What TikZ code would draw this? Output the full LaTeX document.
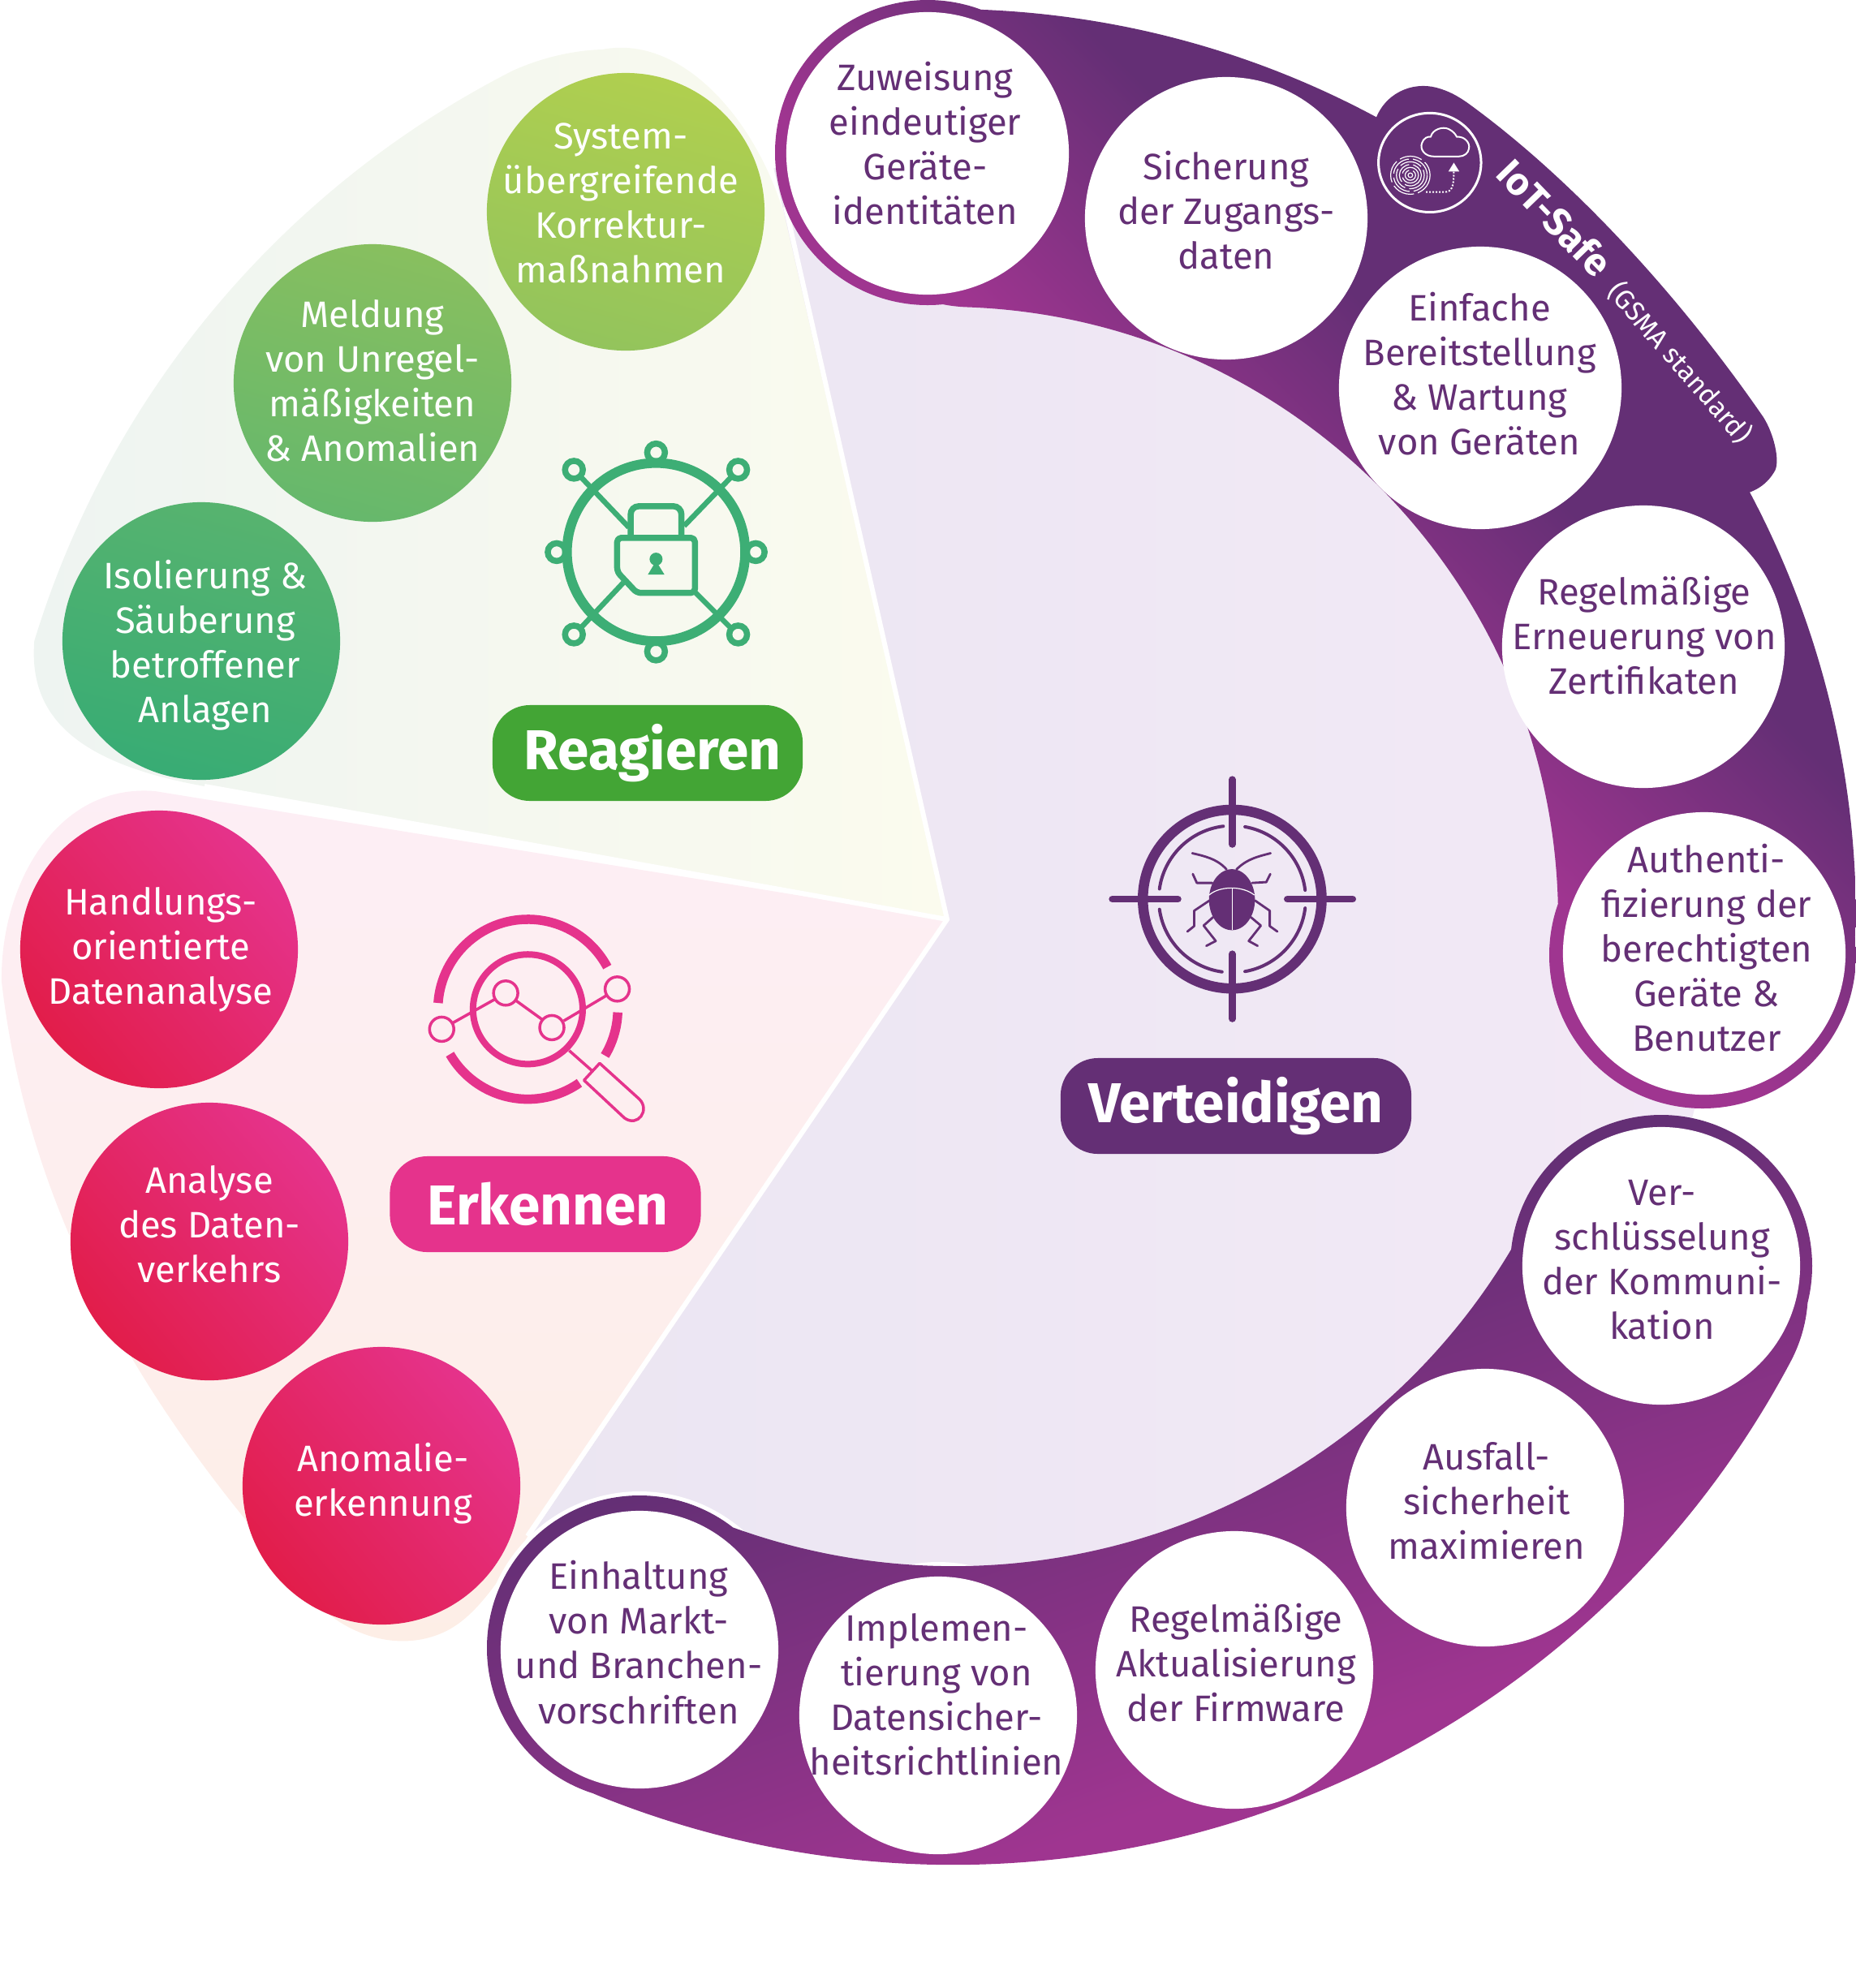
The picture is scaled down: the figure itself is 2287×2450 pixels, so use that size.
\documentclass[tikz,border=0pt]{standalone}
\usepackage{fontspec}
\setmainfont{Fira Sans}
\usetikzlibrary{arrows.meta}

\definecolor{ringdark}{HTML}{642F75}
\definecolor{ringlight}{HTML}{9F3590}
\definecolor{pinkdark}{HTML}{E5338C}
\definecolor{pinkred}{HTML}{E21D4A}
\definecolor{icongreen}{HTML}{3DAE75}
\definecolor{pillgreen}{HTML}{43A535}
\definecolor{lime}{HTML}{B0CF4F}
\definecolor{limelow}{HTML}{93C45C}
\definecolor{grass}{HTML}{88BF5F}
\definecolor{grasslow}{HTML}{66B86C}
\definecolor{teal}{HTML}{57B36F}
\definecolor{teallow}{HTML}{38AC74}
\definecolor{wedgeleft}{HTML}{EEF4F1}
\definecolor{wedgeright}{HTML}{FBFBEE}
\definecolor{wedgerose}{HTML}{FDEEF5}
\definecolor{wedgepeach}{HTML}{FDEEE6}
\definecolor{lavender}{HTML}{EBE6F2}
\definecolor{lavenderlow}{HTML}{F3E9F6}

\pgfdeclareverticalshading{ringtop}{100bp}{color(0bp)=(ringlight); color(46.8bp)=(ringlight); color(59.7bp)=(ringdark); color(100bp)=(ringdark)}
\pgfdeclareverticalshading{ringbottom}{100bp}{color(0bp)=(ringlight); color(35bp)=(ringlight); color(56bp)=(ringdark); color(100bp)=(ringdark)}

\tikzset{
    topic/.style={circle, fill=white, minimum size=3.42cm, inner sep=0pt},
    bigtopic/.style={topic, minimum size=3.48cm},
    topictext/.style={align=center, text=ringdark, inner sep=0pt,
        font=\fontsize{12.9}{15.65}\selectfont},
    whitetext/.style={topictext, text=white},
    greenball/.style 2 args={topic, fill=none, top color=#1, bottom color=#2, shading angle=-15},
    pinkball/.style={topic, fill=none, top color=pinkdark, bottom color=pinkred, shading angle=-50},
    pill/.style={rounded corners=0.46cm, minimum height=1.18cm, inner sep=0pt, text=white,
        font=\fontsize{19.7}{24}\selectfont\bfseries},
    iconline/.style={line cap=round, line join=round},
}

\begin{document}
\begin{tikzpicture}[x=0.01cm, y=-0.01cm]
    \useasboundingbox (0,0) rectangle (2287,2450);

    % Segmente im Hintergrund
    \path[left color=wedgeleft, right color=wedgeright]
        (1167,1133) -- (975,300) .. controls (950,170) and (850,40) .. (742,61) .. controls (705,62) and (665,72) .. (632,87)
        arc[start angle=243, end angle=197, radius=1174]
        .. controls (35,880) and (90,940) .. (252,969) -- cycle;
    \path[top color=wedgerose, bottom color=wedgepeach]
        (1167,1133) -- (191,975) .. controls (70,965) and (0,1090) .. (2,1210)
        .. controls (40,1540) and (220,1790) .. (400,1985)
        .. controls (440,2020) and (500,2035) .. (550,2010) .. controls (590,1990) and (620,1940) .. (657,1883) -- cycle;
    \path[left color=lavender, right color=lavenderlow]
        (1167,1133) -- ++(257:950) arc[start angle=257, end angle=484, radius=950] -- cycle;
    \draw[white, line width=0.06cm] (968,255) -- (1167,1133) -- (650,1893);
    \draw[white, line width=0.06cm] (252,969) -- (1167,1133);
    \fill[white] (788,2032) circle (194);
    \fill[white] (1156,2114) circle (189);

    % Ring oben und rechts
    \path[shade, shading=ringtop, shading angle=-45]
        (1165,1133) ++(272:1122) arc[start angle=272, end angle=360, radius=1122]
        arc[start angle=360, delta angle=180, radius=183.5]
        arc[start angle=360, end angle=272, radius=755]
        arc[start angle=92, delta angle=180, radius=183.5] -- cycle
        (1143,188) circle (188)
        (2098,1177) circle (189);
    % Ring unten
    \path[shade, shading=ringbottom, shading angle=20]
        (1175,1130) ++(28:1168) arc[start angle=28, end angle=112, radius=1168]
        arc[start angle=112, delta angle=180, radius=184]
        arc[start angle=112, end angle=28, radius=800]
        arc[start angle=208, delta angle=180, radius=184] -- cycle
        (2047,1560) circle (186)
        (788,2031) circle (188);

    % IoT-Safe Lasche
    \fill[ringdark] (1694,150) .. controls (1705,115) and (1740,100) .. (1770,108)
        .. controls (1785,112) and (1796,118) .. (1810,128)
        .. controls (1950,230) and (2080,380) .. (2170,510)
        .. controls (2185,530) and (2195,570) .. (2186,582)
        .. controls (2175,600) and (2160,606) .. (2146,610)
        -- (1850,520) -- (1700,370) -- (1680,300) -- cycle;

    \node[bigtopic] (zuweisung) at (1143,189) {};
    \node[bigtopic] (sicherung) at (1511,269) {};
    \node[bigtopic] (einfache) at (1824,478) {};
    \node[bigtopic] (erneuerung) at (2025,797) {};
    \node[bigtopic] (authenti) at (2100,1175) {};
    \node[topic] (verschluss) at (2047,1560) {};
    \node[topic] (ausfall) at (1830,1858) {};
    \node[topic] (firmware) at (1521,2058) {};
    \node[topic] (richtlinien) at (1156,2114) {};
    \node[topic] (vorschriften) at (788,2033) {};

    \node[topictext] (zuweisungtext) at (1140,177) {Zuweisung\\eindeutiger\\Geräte-\\identitäten};
    \node[topictext] (sicherungtext) at (1511,259) {Sicherung\\der Zugangs-\\daten};
    \node[topictext] (einfachetext) at (1823,461) {Einfache\\Bereitstellung\\\& Wartung\\von Geräten};
    \node[topictext] (erneuerungtext) at (2026,783) {Regelmäßige\\Erneuerung von\\Zertifikaten};
    \node[topictext] (authentitext) at (2103,1168) {Authenti-\\fizierung der\\berechtigten\\Geräte \&\\Benutzer};
    \node[topictext] (verschlusstext) at (2048,1553) {Ver-\\schlüsselung\\der Kommuni-\\kation};
    \node[topictext] (ausfalltext) at (1832,1850) {Ausfall-\\sicherheit\\maximieren};
    \node[topictext] (firmwaretext) at (1523,2049) {Regelmäßige\\Aktualisierung\\der Firmware};
    \node[topictext] (richtlinientext) at (1154,2088) {Implemen-\\tierung von\\Datensicher-\\heitsrichtlinien};
    \node[topictext] (vorschriftentext) at (787,2024) {Einhaltung\\von Markt-\\und Branchen-\\vorschriften};

    % Reagieren
    \node[greenball={lime}{limelow}] (system) at (771,261) {};
    \node[greenball={grass}{grasslow}] (meldung) at (459,472) {};
    \node[greenball={teal}{teallow}] (isolierung) at (248,790) {};
    \node[whitetext] (systemtext) at (765,250) {System-\\übergreifende\\Korrektur-\\maßnahmen};
    \node[whitetext] (meldungtext) at (459,469) {Meldung\\von Unregel-\\mäßigkeiten\\\& Anomalien};
    \node[whitetext] (isolierungtext) at (253,795) {Isolierung \&\\Säuberung\\betroffener\\Anlagen};

    % Erkennen
    \node[pinkball] (handlung) at (196,1170) {};
    \node[pinkball] (analyse) at (258,1530) {};
    \node[pinkball] (anomalie) at (470,1831) {};
    \node[whitetext] (handlungtext) at (198,1170) {Handlungs-\\orientierte\\Datenanalyse};
    \node[whitetext] (analysetext) at (258,1509) {Analyse\\des Daten-\\verkehrs};
    \node[whitetext] (anomalietext) at (472,1828) {Anomalie-\\erkennung};

    \node[pill, fill=pillgreen, minimum width=3.82cm] (reagieren) at (798,928) {\hspace{0.12cm}Reagieren};
    \node[pill, fill=pinkdark, minimum width=3.83cm] (erkennen) at (672,1484) {\hspace{0.06cm}Erkennen};
    \node[pill, fill=ringdark, minimum width=4.32cm] (verteidigen) at (1523,1363) {Verteidigen\hspace{0.06cm}};

    % Schrift auf der Lasche
    \node[rotate=-46, text=white, inner sep=0pt, font=\fontsize{13.5}{16}\selectfont\bfseries] (iotsafe) at (1916,268) {IoT-Safe};
    \node[rotate=-49, text=white, inner sep=0pt, font=\fontsize{9.5}{12}\selectfont] (gsma) at (2070,447) {(GSMA standard)};

    % Symbol IoT-Safe
    \begin{scope}[shift={(1660,90)}, x=0.00357cm, y=-0.00345cm]
        \draw[white, line width=0.03cm] (285,320) circle (177);
        \draw[white, line width=0.02cm, iconline] (300,298) .. controls (265,298) and (250,270) .. (258,250)
            .. controls (263,232) and (280,225) .. (288,228) .. controls (295,200) and (330,190) .. (350,200)
            .. controls (365,207) and (375,220) .. (378,228) .. controls (405,225) and (425,250) .. (420,270)
            .. controls (418,285) and (405,298) .. (385,298) -- cycle;
        \foreach \rad in {8,18,28,38,48,58,68} {
            \draw[white, line width=0.012cm, dash pattern=on 0.28cm off 0.05cm] (218,365) circle (\rad);
        }
        \coordinate (printout) at (272,425);
        \coordinate (cloudin) at (368,320);
        \draw[white, line width=0.02cm, dash pattern=on 0.02cm off 0.02cm, -{Triangle[width=0.13cm, length=0.11cm, fill=white]}]
            (printout) -- (335,425) .. controls (360,425) and (368,410) .. (cloudin);
    \end{scope}

    % Symbol Reagieren
    \begin{scope}[shift={(640,520)}, x=0.00333cm, y=-0.00333cm, draw=icongreen]
        \draw[line width=0.12cm] (506,482) circle (330);
        \foreach \px/\py in {506/113, 202/177, 810/177, 138/482, 875/482, 202/787, 810/787, 506/850} {
            \draw[line width=0.075cm] (\px,\py) circle (33);
        }
        \draw[line width=0.065cm] (222,198) -- (405,390);
        \draw[line width=0.065cm] (790,198) -- (610,385);
        \draw[line width=0.065cm] (225,765) -- (385,595);
        \draw[line width=0.065cm] (785,765) -- (650,630);
        \draw[line width=0.075cm, rounded corners=0.1cm] (412,425) -- (412,312) -- (600,312) -- (600,425);
        \draw[line width=0.075cm, line join=round, rounded corners=0.05cm]
            (362,429) -- (650,429) -- (650,633) -- (435,633) -- (362,555) -- cycle;
        \fill[icongreen] (506,508) circle (24);
        \fill[icongreen] (506,515) -- (537,565) -- (476,565) -- cycle;
    \end{scope}

    % Symbol Erkennen
    \begin{scope}[shift={(500,1100)}, x=0.00333cm, y=-0.00333cm, draw=pinkdark]
        \draw[line width=0.115cm] (452,432) ++(184:333) arc[start angle=184, end angle=332, radius=333];
        \draw[line width=0.115cm] (452,432) ++(2:333) arc[start angle=2, end angle=31, radius=333];
        \draw[line width=0.115cm] (452,432) ++(55:333) arc[start angle=55, end angle=150, radius=333];
        \draw[line width=0.08cm] (452,432) circle (203);
        \foreach \px/\py in {133/506, 370/372, 541/500, 783/357} {
            \draw[line width=0.035cm] (\px,\py) circle (45);
        }
        \draw[line width=0.035cm] (175,482) -- (330,395);
        \draw[line width=0.035cm] (408,400) -- (505,470);
        \draw[line width=0.035cm] (585,475) -- (745,380);
        \draw[line width=0.035cm] (605,585) -- (690,660);
        \draw[line width=0.035cm, line join=round] (718,632) -- (865,765)
            .. controls (905,805) and (860,870) .. (810,835) -- (660,695) -- cycle;
    \end{scope}

    % Symbol Verteidigen
    \begin{scope}[shift={(1340,940)}, x=0.00333cm, y=-0.00333cm, draw=ringdark]
        \draw[line width=0.125cm] (536,505) circle (331);
        \draw[line width=0.085cm, line cap=round] (536,62) -- (536,302);
        \draw[line width=0.085cm, line cap=round] (536,708) -- (536,948);
        \draw[line width=0.085cm, line cap=round] (92,505) -- (335,505);
        \draw[line width=0.085cm, line cap=round] (740,505) -- (982,505);
        \foreach \from/\to in {-80/-7, 7/80, 98/172, 188/263} {
            \draw[line width=0.04cm, line cap=round] (536,505) ++(\from:272) arc[start angle=\from, end angle=\to, radius=272];
        }
        \fill[ringdark] (535,507) ellipse (85 and 113);
        \draw[white, line width=0.012cm] (537,465) -- (537,620);
        \draw[white, line width=0.012cm] (450,490) .. controls (490,455) and (575,455) .. (618,490);
        \draw[line width=0.028cm, iconline] (515,395) .. controls (480,355) and (430,345) .. (388,335);
        \draw[line width=0.028cm, iconline] (552,395) .. controls (590,355) and (640,345) .. (678,335);
        \draw[line width=0.028cm, iconline] (462,445) -- (405,445) -- (390,412);
        \draw[line width=0.028cm, iconline] (610,445) -- (662,442) -- (677,412);
        \draw[line width=0.028cm, iconline] (452,510) -- (395,548) -- (395,605) -- (370,625);
        \draw[line width=0.028cm, iconline] (620,510) -- (675,548) -- (675,605) -- (703,625);
        \draw[line width=0.028cm, iconline] (465,572) -- (430,603) -- (475,660) -- (440,678);
        \draw[line width=0.028cm, iconline] (605,572) -- (642,603) -- (597,660) -- (630,678);
    \end{scope}
\end{tikzpicture}
\end{document}
